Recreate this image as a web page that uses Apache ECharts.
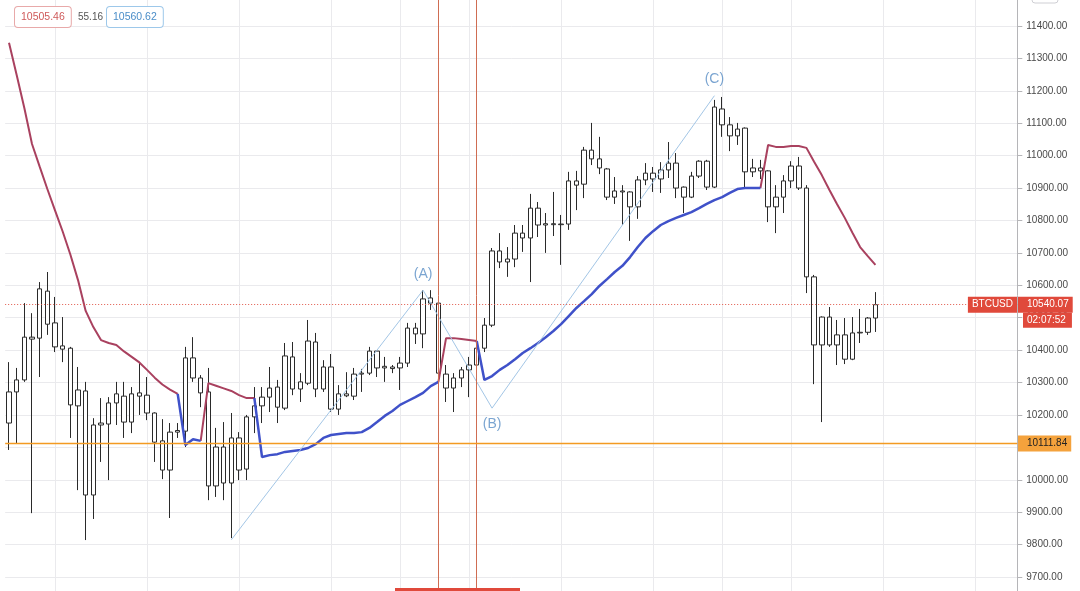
<!DOCTYPE html>
<html><head><meta charset="utf-8">
<script src="https://cdn.jsdelivr.net/npm/echarts@6/dist/echarts.min.js"></script>
<style>html,body{margin:0;padding:0;background:#fff;}#c{width:1080px;height:591px;}</style>
</head><body><div id="c"></div>
<script>
// ---- data ----
const slotCount = 132; // time slots on the x axis (114 candles + empty right margin)
// [open, close, low, high]
const candles = [
[10175,10271,10092,10363],[10271,10308,10113,10345],[10308,10440,10302,10545],[10440,10434,9897,10514],
[10437,10589,10317,10610],[10582,10480,10447,10641],[10484,10410,10394,10564],[10413,10403,10363,10502],
[10406,10231,10129,10410],[10228,10277,9968,10348],[10274,9953,9814,10302],[9953,10169,9879,10190],
[10169,10175,10055,10252],[10172,10237,9999,10255],[10237,10265,10169,10302],[10258,10178,10129,10302],
[10178,10265,10144,10286],[10258,10268,10200,10360],[10261,10206,10184,10317],[10206,10116,10055,10208],
[10120,10030,10002,10187],[10030,10147,9882,10175],[10147,10152,10129,10175],[10150,10376,10101,10410],
[10376,10314,10302,10440],[10314,10268,10224,10323],[10271,9981,9937,10345],[9981,10101,9947,10160],
[10101,9990,9937,10178],[9990,10129,9820,10206],[10129,10030,9999,10147],[10033,10194,9999,10200],
[10194,10228,10144,10286],[10228,10255,10175,10286],[10255,10283,10209,10348],[10286,10224,10175,10308],
[10221,10382,10215,10422],[10379,10280,10261,10425],[10280,10302,10240,10329],[10298,10428,10292,10493],
[10425,10280,10255,10453],[10280,10348,10271,10369],[10348,10218,10209,10388],[10218,10265,10200,10292],
[10265,10259,10255,10332],[10258,10326,10246,10345],[10326,10329,10271,10342],[10329,10397,10323,10410],
[10397,10345,10317,10400],[10345,10350,10302,10379],[10348,10343,10329,10354],[10345,10360,10277,10379],
[10360,10468,10348,10484],[10468,10450,10419,10484],[10450,10558,10406,10585],[10561,10545,10524,10585],
[10545,10329,10302,10550],[10326,10283,10240,10354],[10283,10314,10209,10329],[10314,10339,10286,10348],
[10339,10354,10255,10379],[10354,10406,10317,10422],[10406,10477,10394,10499],[10477,10706,10471,10715],
[10706,10672,10653,10761],[10672,10681,10626,10718],[10681,10761,10656,10786],[10761,10746,10703,10786],
[10746,10838,10610,10882],[10838,10786,10749,10857],[10786,10790,10700,10823],[10790,10787,10752,10888],
[10787,10789,10663,10817],[10789,10922,10771,10950],[10922,10909,10832,10953],[10912,11017,10869,11027],
[11017,10990,10971,11101],[10990,10962,10943,11058],[10959,10872,10863,10962],[10872,10891,10851,10934],
[10891,10888,10786,10909],[10888,10842,10737,10890],[10842,10925,10805,10937],[10925,10946,10909,10977],
[10946,10928,10888,10965],[10928,10956,10885,10980],[10956,10977,10931,11042],[10977,10900,10869,11008],
[10903,10872,10823,10905],[10872,10937,10869,10950],[10937,10983,10931,10986],[10983,10903,10894,10987],
[10903,11150,10900,11172],[11144,11095,11058,11181],[11095,11061,11014,11119],[11061,11082,11033,11101],
[11085,10950,10903,11087],[10950,10962,10934,10990],[10962,10953,10928,10987],[10953,10842,10795,10955],
[10842,10872,10761,10909],[10872,10922,10823,10940],[10922,10968,10900,10983],[10968,10900,10894,10996],
[10900,10626,10576,10909],[10626,10416,10295,10632],[10416,10502,10178,10504],[10502,10416,10410,10533],
[10416,10447,10354,10493],[10447,10372,10357,10499],[10372,10453,10369,10502],[10453,10455,10422,10527],
[10455,10499,10447,10502],[10499,10540.07,10456,10579]
];
// trend band drawn in red (down trend) – null where the blue band is active
const upperBand = [
11348,11249,11147,11036,10966,10897,10831,10766,10695,10616,10521,10471,10431,10422,10416,10396,10379,10362,10339,10315,10294,10278,10265,
null,null,10120,
10298,10290,10282,10274,10261,10252,10252,
null,null,null,null,null,null,null,null,null,null,null,null,null,null,null,null,null,null,null,null,null,null,null,
10302,10437,10437,10434,10431,10428,
null,null,null,null,null,null,null,null,null,null,null,null,null,null,null,null,null,null,
null,null,null,null,null,null,null,null,null,null,null,null,null,null,null,null,null,null,
10900,11033,11027,11027,11030,11030,11024,10981,10940,10894,10850,10808,10762,10718,10690,10663
];
// trend band drawn in blue (up trend)
const lowerBand = [
null,null,null,null,null,null,null,null,null,null,null,null,null,null,null,null,null,null,null,null,null,null,
10265,10107,10125,10120,
null,null,null,null,null,null,
10252,10070,10076,10079,10086,10089,10092,10098,10110,10129,10138,10141,10144,10144,10147,10160,10178,10197,10212,10231,10243,10255,10268,10289,10302,
null,null,null,null,
10428,10308,10320,10339,10354,10372,10391,10406,10422,10440,10459,10480,10505,10530,10551,10573,10598,10619,10641,10660,
10687,10718,10746,10767,10786,10798,10808,10817,10826,10838,10851,10863,10872,10885,10897,10900,10900,10900,
null,null,null,null,null,null,null,null,null,null,null,null,null,null,null
];
const waveSlots = [29, 54, 63, 92];
const wavePrices = [9815, 10585, 10221, 11185];
const waveLabels = ['', '(A)', '(B)', '(C)'];
const wavePos = ['top', 'top', 'bottom', 'top'];
const vGridSlots = [6, 18, 30, 42, 51, 60, 72, 84, 93, 102, 114, 126];
const markerSlots = [56, 61];
const lastPrice = 10540.07;
const supportPrice = 10111.84;
const symbolName = 'BTCUSD';
const countdown = '02:07:52';
const headerValues = ['10505.46', '55.16', '10560.62'];
const yMin = 9600, yMax = 11500, yStep = 100;

// ---- chart ----
const categories = [];
for (let i = 0; i < slotCount; i++) categories.push(String(i));
const gridColor = '#eaeaed';
const FONT = 'Liberation Sans';

function hLine(name, value, style, z) {
  return {
    name, type: 'line', data: [], z, silent: true,
    markLine: { z, silent: true, symbol: ['none', 'none'], label: { show: false }, emphasis: { disabled: true },
      lineStyle: style, data: [{ yAxis: value }] }
  };
}

const chart = echarts.init(document.getElementById('c'));
const option = {
  animation: false,
  backgroundColor: '#ffffff',
  grid: { left: 5.17, right: 62.7, top: -6.41, bottom: -18.41, containLabel: false, outerBoundsMode: 'none' },
  xAxis: {
    type: 'category', data: categories, boundaryGap: true,
    axisLine: { show: false }, axisTick: { show: false }, axisLabel: { show: false }, splitLine: { show: false }
  },
  yAxis: {
    type: 'value', position: 'right', min: yMin, max: yMax, interval: yStep,
    axisLine: { show: true, lineStyle: { color: '#b5b5b8' } },
    axisTick: { show: true, length: 5, lineStyle: { color: '#b5b5b8' } },
    axisLabel: { margin: 9, color: '#4a4a4a', fontSize: 10, fontFamily: FONT, formatter: v => v.toFixed(2) },
    splitLine: { show: true, lineStyle: { color: gridColor, width: 1 } }
  },
  series: [
    {
      name: 'vgrid', type: 'line', data: [], z: 1, silent: true,
      markLine: {
        z: 1, silent: true, symbol: ['none', 'none'], label: { show: false },
        lineStyle: { color: gridColor, width: 1, type: 'solid' },
        emphasis: { disabled: true },
        data: vGridSlots.map(s => ({ xAxis: s }))
      }
    },
    {
      name: 'BTCUSD', type: 'candlestick', data: candles, barWidth: 5, z: 3,
      itemStyle: { color: '#ffffff', color0: '#ffffff', borderColor: '#2a2a2a', borderColor0: '#2a2a2a', borderColorDoji: '#2a2a2a', borderWidth: 1 }
    },
    {
      name: 'upper', type: 'line', data: upperBand, symbol: 'none', connectNulls: false, z: 4,
      lineStyle: { color: '#a9415f', width: 2 }
    },
    {
      name: 'lower', type: 'line', data: lowerBand, symbol: 'none', connectNulls: false, z: 4,
      lineStyle: { color: '#3f51c9', width: 2.5 }
    },
    {
      name: 'wave', type: 'line', symbol: 'none', z: 4,
      data: waveSlots.map((s, i) => [s, wavePrices[i]]),
      lineStyle: { color: '#a3c6e6', width: 1 }
    },
    {
      name: 'waveLabels', type: 'scatter', z: 6, symbolSize: 1,
      itemStyle: { color: 'rgba(0,0,0,0)' },
      data: waveSlots.map((s, i) => ({
        value: [s, wavePrices[i]],
        label: { show: waveLabels[i] !== '', formatter: waveLabels[i], position: wavePos[i], distance: 9,
                 color: '#5a8ec6', fontSize: 14, fontFamily: FONT }
      }))
    },
    {
      name: 'markers', type: 'line', data: [], z: 5, silent: true,
      markLine: {
        z: 5, silent: true, symbol: ['none', 'none'], label: { show: false }, emphasis: { disabled: true },
        lineStyle: { color: '#cf6d52', width: 1, type: 'solid' },
        data: markerSlots.map(s => ({ xAxis: s }))
      }
    },
    hLine('support', supportPrice, { color: '#f39a22', width: 1.4, type: 'solid', opacity: 1 }, 5),
    hLine('last', lastPrice, { color: '#e0584a', width: 1, type: [1, 2], opacity: 1 }, 5)
  ]
};
chart.setOption(option);

const yLast = chart.convertToPixel({ yAxisIndex: 0 }, lastPrice);
const ySup = chart.convertToPixel({ yAxisIndex: 0 }, supportPrice);
const fnt = '10px ' + FONT;
chart.setOption({
  graphic: [
    { type: 'text', z: 100, style: { text: headerValues[0], x: 15, y: 7, font: '10.5px ' + FONT, fill: '#cf5a5a',
      backgroundColor: '#fff', borderColor: '#e8a9a9', borderWidth: 1, borderRadius: 3, padding: [5, 6, 4, 6] } },
    { type: 'text', z: 100, style: { text: headerValues[1], x: 78, y: 17, verticalAlign: 'middle', font: '10px ' + FONT, fill: '#555' } },
    { type: 'text', z: 100, style: { text: headerValues[2], x: 107, y: 7, font: '10.5px ' + FONT, fill: '#4a8dc8',
      backgroundColor: '#fff', borderColor: '#9dc8ea', borderWidth: 1, borderRadius: 3, padding: [5, 6, 4, 6] } },
    { type: 'text', z: 100, style: { text: symbolName, x: 1017, y: yLast, align: 'right', verticalAlign: 'middle', font: fnt, fill: '#fff',
      backgroundColor: '#e0493b', padding: [3, 4, 3, 4] } },
    { type: 'text', z: 100, style: { text: lastPrice.toFixed(2), x: 1018, y: yLast, verticalAlign: 'middle', font: fnt, fill: '#fff',
      backgroundColor: '#e0493b', padding: [3, 4, 3, 9] } },
    { type: 'text', z: 100, style: { text: countdown, x: 1023, y: yLast + 8, verticalAlign: 'top', font: fnt, fill: '#fff',
      backgroundColor: '#e0493b', padding: [3, 6, 2, 4] } },
    { type: 'text', z: 100, style: { text: supportPrice.toFixed(2), x: 1018, y: ySup, verticalAlign: 'middle', font: fnt, fill: '#222',
      backgroundColor: '#f4a23c', padding: [3, 4, 3, 9] } },
    { type: 'rect', z: 100, shape: { x: 395, y: 588, width: 125, height: 3 }, style: { fill: '#e0493b' } },
    { type: 'rect', z: 100, shape: { x: 1032, y: -8, width: 26, height: 11, r: 3 }, style: { fill: 'none', stroke: '#cfcfd4' } }
  ]
});
</script>
</body></html>
